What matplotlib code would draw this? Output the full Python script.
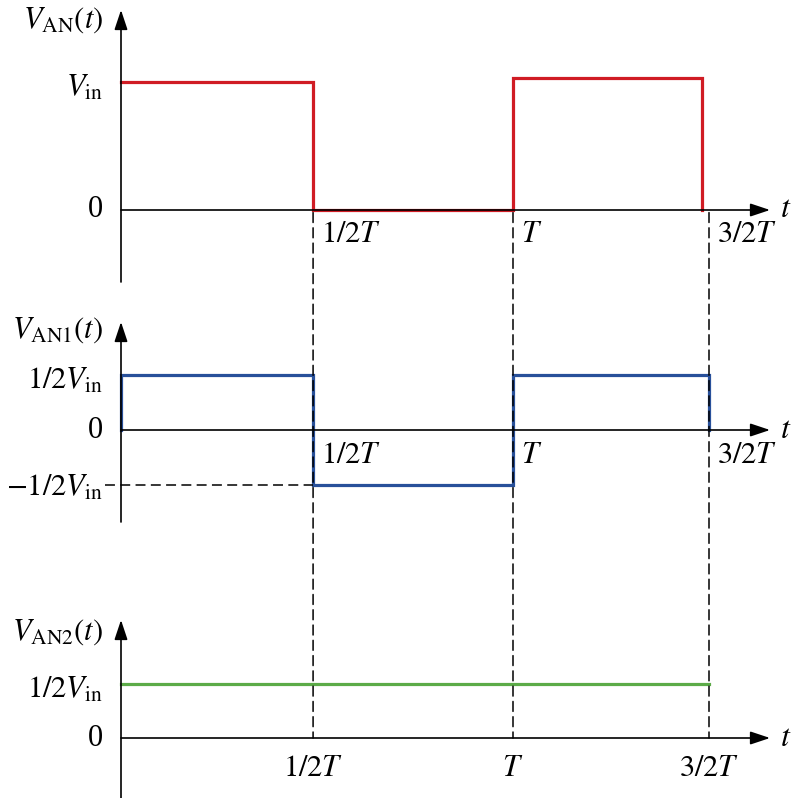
import matplotlib.pyplot as plt
from matplotlib.patches import ConnectionPatch

plt.rcParams['font.family'] = ['Liberation Serif', 'DejaVu Serif']
plt.rcParams['mathtext.fontset'] = 'stix'

# waveforms, time in units of T, voltage in units of Vin
t_an = [0, 0.49, 0.49, 1.0, 1.0, 1.482, 1.482]
v_an = [1, 1, 0, 0, 1.03, 1.03, 0]
t_an1 = [0, 0, 0.49, 0.49, 1.0, 1.0, 1.5, 1.5]
v_an1 = [0, 0.5, 0.5, -0.5, -0.5, 0.5, 0.5, 0]
t_an2 = [0, 1.5]
v_an2 = [0.5, 0.5]

t_marks = [0.49, 1.0, 1.5]
t_labels = [r'$1/2T$', r'$T$', r'$3/2T$']

RED = '#d01c24'
BLUE = '#28509a'
GREEN = '#5cab48'

W = 798
fig = plt.figure(figsize=(7.98, 7.98), dpi=100)

PX_T = 392.0  # pixels per T
X0 = 121
X1 = 770
xmax = (X1 - X0) / PX_T


def make_ax(y_top, y_zero, y_bot, px_v):
    ax = fig.add_axes([X0 / W, 1 - y_bot / W, (X1 - X0) / W, (y_bot - y_top) / W])
    ax.set_xlim(0, xmax)
    ax.set_ylim(-(y_bot - y_zero) / px_v, (y_zero - y_top) / px_v)
    ax.axis('off')
    arrow = dict(arrowstyle='-|>,head_length=1.2,head_width=0.4', color='black',
                 lw=1.2, shrinkA=0, shrinkB=0)
    ax.annotate('', xy=(0, 1), xytext=(0, 0), xycoords='axes fraction',
                arrowprops=arrow)
    ax.annotate('', xy=(1, 0), xytext=(0, 0),
                xycoords=('axes fraction', 'data'), arrowprops=arrow)
    ax.text(1.016, 0, r'$t$', transform=ax.get_yaxis_transform(),
            fontsize=23, ha='left', va='center')
    return ax


fs = 22
lx = -0.045

# top panel
ax1 = make_ax(10, 210, 282, 128)
ax1.plot(t_an, v_an, color=RED, lw=2.3, solid_joinstyle='miter', clip_on=False)
ax1.text(lx, 1.48, r'$V_{\mathrm{AN}}(t)$', fontsize=fs, ha='right', va='center')
ax1.text(lx, 0.95, r'$V_{\mathrm{in}}$', fontsize=fs, ha='right', va='center')
ax1.text(lx, 0, '0', fontsize=fs, ha='right', va='center')
for tm, lab in zip(t_marks, t_labels):
    ax1.text(tm + 0.02, -0.19, lab, fontsize=fs, ha='left', va='center')

# middle panel
ax2 = make_ax(322, 430, 522, 110)
ax2.plot(t_an1, v_an1, color=BLUE, lw=2.3, solid_joinstyle='miter', clip_on=False)
ax2.plot([-0.04, 0.49], [-0.5, -0.5], color='black', lw=1.1,
         dashes=(6.5, 3.5), clip_on=False)
ax2.text(lx, 0.91, r'$V_{\mathrm{AN1}}(t)$', fontsize=fs, ha='right', va='center')
ax2.text(lx, 0.44, r'$1/2V_{\mathrm{in}}$', fontsize=fs, ha='right', va='center')
ax2.text(lx, 0, '0', fontsize=fs, ha='right', va='center')
ax2.text(lx, -0.53, r'$-1/2V_{\mathrm{in}}$', fontsize=fs, ha='right', va='center')
for tm, lab in zip(t_marks, t_labels):
    ax2.text(tm + 0.02, -0.23, lab, fontsize=fs, ha='left', va='center')

# bottom panel
ax3 = make_ax(620, 738, 798, 108)
ax3.plot(t_an2, v_an2, color=GREEN, lw=2.3, clip_on=False)
ax3.text(lx, 0.98, r'$V_{\mathrm{AN2}}(t)$', fontsize=fs, ha='right', va='center')
ax3.text(lx, 0.44, r'$1/2V_{\mathrm{in}}$', fontsize=fs, ha='right', va='center')
ax3.text(lx, 0, '0', fontsize=fs, ha='right', va='center')
for tm, lab in zip(t_marks, t_labels):
    ax3.text(tm, -0.28, lab, fontsize=fs, ha='center', va='center')

# dashed guides running through all panels
for tm in t_marks:
    con = ConnectionPatch(xyA=(tm, -0.02), coordsA=ax1.transData,
                          xyB=(tm, 0), coordsB=ax3.transData,
                          color='black', lw=1.1, linestyle=(0, (6.5, 3.5)), zorder=3)
    fig.add_artist(con)

fig.savefig('out.png', dpi=100)
